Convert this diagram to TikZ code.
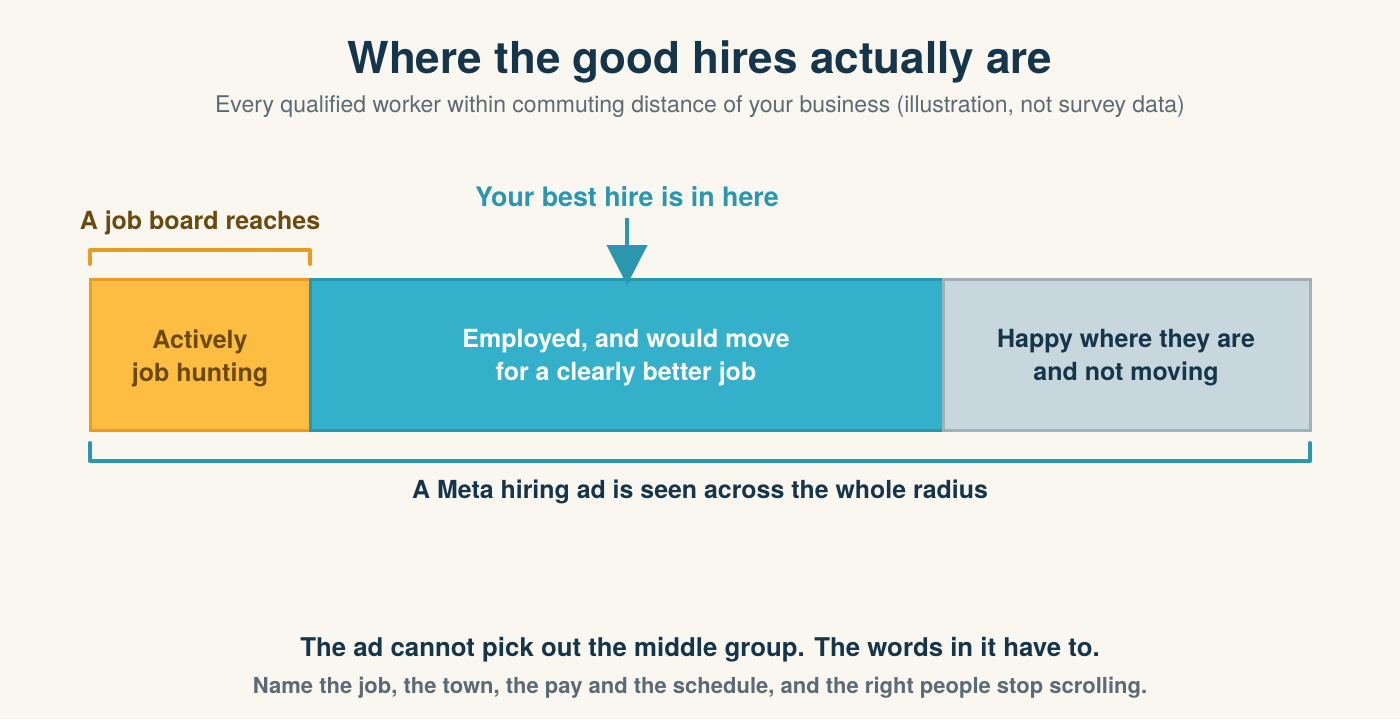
\documentclass[tikz,border=0pt]{standalone}
\usepackage{fontspec}
\setmainfont{TeX Gyre Heros}
\usetikzlibrary{arrows.meta}

\definecolor{paper}{HTML}{FAF6F0}
\definecolor{navy}{HTML}{15364A}
\definecolor{slate}{HTML}{5B6A74}
\definecolor{teal}{HTML}{2A97AE}
\definecolor{tealfill}{HTML}{35B0CB}
\definecolor{amber}{HTML}{E99C22}
\definecolor{amberfill}{HTML}{FDBD42}
\definecolor{brown}{HTML}{6B4A10}
\definecolor{mist}{HTML}{C8D6DD}
\definecolor{mistline}{HTML}{9FB1BA}

\tikzset{
  seg/.style={line width=1.5pt},
  brace/.style={line width=2pt, line cap=round, line join=round},
  boxtext/.style={align=center, font=\fontsize{12.5}{16.5}\selectfont\bfseries},
}

\begin{document}
\begin{tikzpicture}[x=0.5pt, y=-0.5pt]
                \useasboundingbox[fill=paper] (0,0) rectangle (1400,719);

                \node[navy, font=\fontsize{22}{26}\selectfont\bfseries] (title) at (700,62) {Where the good hires actually are};
                \node[slate, font=\fontsize{11.5}{14}\selectfont] (sub) at (700,107) {Every qualified worker within commuting distance of your business (illustration, not survey data)};

                \coordinate (A) at (90,279);
                \coordinate (B) at (310,430);
                \coordinate (C) at (943,279);
                \coordinate (D) at (1310,430);

                \draw[seg, amber, fill=amberfill] (A) rectangle (B);
                \draw[seg, teal, fill=tealfill] (310,279) rectangle (943,430);
                \draw[seg, mistline, fill=mist] (C) rectangle (D);

                \node[boxtext, brown] (hunt) at (200,358) {Actively\\job hunting};
                \node[boxtext, white] (open) at (626,358) {Employed, and would move\\for a clearly better job};
                \node[boxtext, navy] (happy) at (1126,358) {Happy where they are\\and not moving};

                % job board bracket
                \node[brown, font=\fontsize{12.5}{15}\selectfont\bfseries] (board) at (200,223) {A job board reaches};
                \draw[brace, amber] (90,264) -- (90,250) -- (310,250) -- (310,264);

                % best hire arrow
                \node[teal, font=\fontsize{13.4}{16}\selectfont\bfseries] (best) at (627,197) {Your best hire is in here};
                \coordinate (tip) at (627,285);
                \draw[teal, line width=2pt, -{Triangle[width=20pt, length=20pt]}] (best.south) ++(0,4) -- (tip);

                % whole radius bracket
                \draw[brace, teal] (90,443) -- (90,461) -- (1310,461) -- (1310,443);
                \node[navy, font=\fontsize{12.45}{15}\selectfont\bfseries] (meta) at (700,492) {A Meta hiring ad is seen across the whole radius};

                \node[navy, font=\fontsize{12.9}{16}\selectfont\bfseries] (note) at (700,650) {The ad cannot pick out the middle group. The words in it have to.};
                \node[slate, font=\fontsize{11}{13}\selectfont\bfseries] (tip2) at (700,688) {Name the job, the town, the pay and the schedule, and the right people stop scrolling.};
            \end{tikzpicture}
\end{document}
